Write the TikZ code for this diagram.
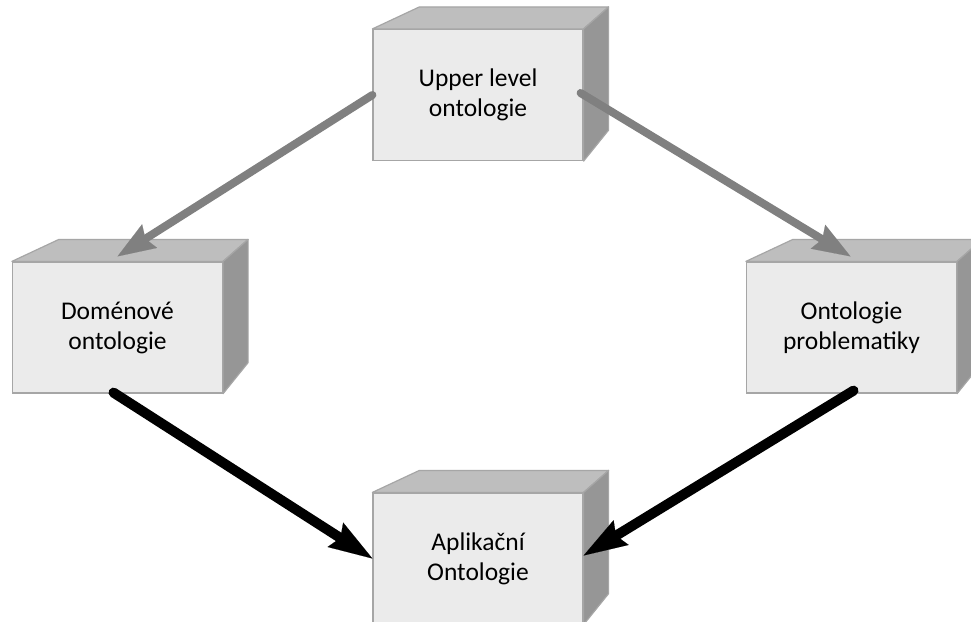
\documentclass[tikz,border=0pt]{standalone}
\usepackage{fontspec}
\setmainfont{Carlito}
\usetikzlibrary{arrows.meta,calc}

\definecolor{boxfront}{HTML}{EBEBEB}
\definecolor{boxtop}{HTML}{BEBEBE}
\definecolor{boxside}{HTML}{969696}
\definecolor{boxline}{HTML}{A6A6A6}
\definecolor{linkgray}{HTML}{808080}

\tikzset{
  cube/.style={draw=boxline, fill=boxfront, line width=1.2pt,
    minimum width=210pt, minimum height=131pt, inner sep=0pt,
    align=center, font=\fontsize{25.5}{30}\selectfont},
  topface/.style={draw=boxline, fill=boxtop, line width=1.2pt, line join=round},
  sideface/.style={draw=boxline, fill=boxside, line width=1.2pt, line join=round},
  derive/.style={draw=linkgray, line width=8pt, line cap=round,
    -{Stealth[length=38pt, width=28pt, inset=5pt, line width=0.1pt]}},
  compose/.style={draw=black, line width=10pt, line cap=round,
    -{Stealth[length=44pt, width=29pt, inset=6pt, line width=0.1pt]}}
}

\begin{document}
\begin{tikzpicture}[x=1pt, y=-1pt]
  \useasboundingbox (0,0) rectangle (971,621);
  \clip (0,0) rectangle (971,621);
  \fill[white] (0,0) rectangle (971,621);

  % front faces of the four ontology blocks
  \node[cube] (upper) at (478,95)    {Upper level\\ontologie};
  \node[cube] (dom)   at (117.5,327.5) {Doménové\\ontologie};
  \node[cube] (prob)  at (851.5,327.5) {Ontologie\\problematiky};
  \node[cube] (app)   at (478,558.5) {Aplikační\\Ontologie};

  % top and right faces giving each block its depth
  \foreach \n in {upper,dom,prob,app} {
    \path[topface] (\n.north west) -- ++(47,-22)
      -- ($(\n.north east)+(25,-22)$) -- (\n.north east) -- cycle;
    \path[sideface] (\n.north east) -- ++(25,-22)
      -- ($(\n.south east)+(25,-31)$) -- (\n.south east) -- cycle;
  }

  % specialisation links
  \draw[derive] (upper.west) -- ($(dom.north)+(0,-5)$);
  \draw[derive] ($(upper.east)+(-3,-2)$) -- ($(prob.north)+(-1,-5)$);

  % composition into the application ontology
  \draw[compose] ($(dom.south)+(-4,-1)$) -- (app.west);
  \draw[compose] ($(prob.south)+(2,-3)$) -- ($(app.east)+(0,-3)$);
\end{tikzpicture}
\end{document}
